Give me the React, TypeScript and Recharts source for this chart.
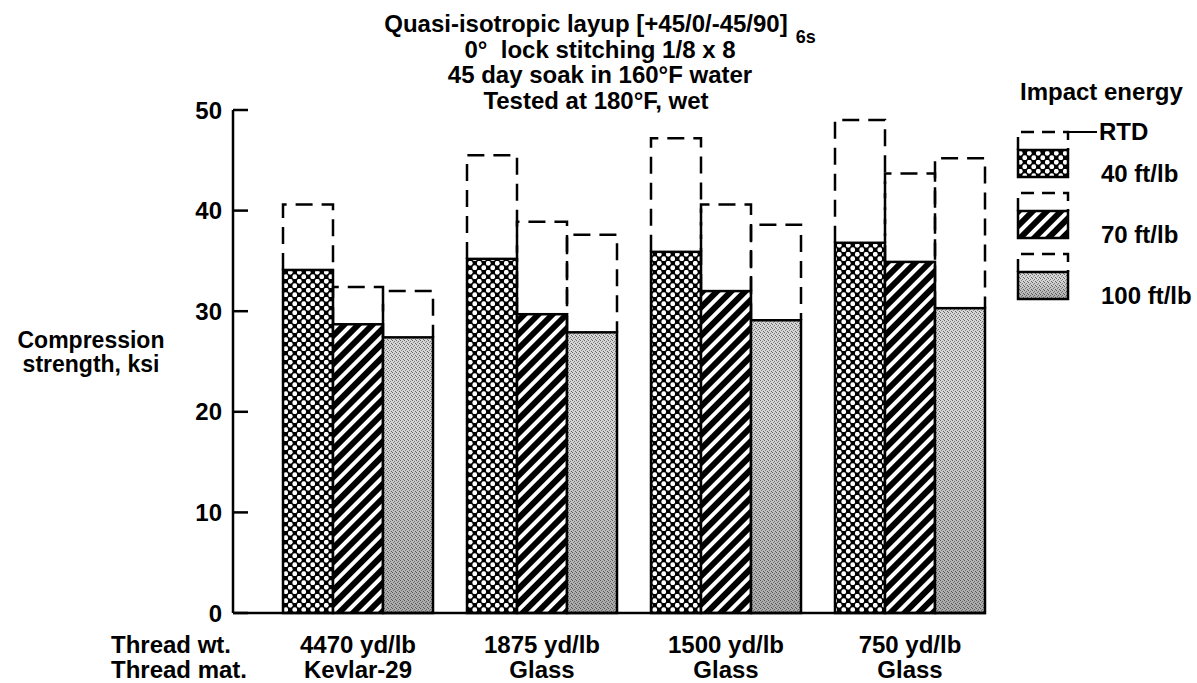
import { BarChart, Bar, XAxis, YAxis, Legend } from "recharts";

// thread weight / material per group
const threadWeights = ["4470 yd/lb", "1875 yd/lb", "1500 yd/lb", "750 yd/lb"];
const threadMaterials = ["Kevlar-29", "Glass", "Glass", "Glass"];

// compression strength after impact, ksi
const impact40 = [34.1, 35.2, 35.9, 36.8];
const impact70 = [28.7, 29.7, 32.0, 34.9];
const impact100 = [27.4, 27.9, 29.1, 30.3];

// RTD (room temperature dry) strength, ksi
const rtd40 = [40.6, 45.5, 47.2, 49.0];
const rtd70 = [32.4, 38.9, 40.6, 43.7];
const rtd100 = [32.0, 37.6, 38.6, 45.2];

const yTicks = [0, 10, 20, 30, 40, 50];

const FONT = '"Liberation Sans", Arial, Helvetica, sans-serif';

const data = threadWeights.map((wt, i) => ({
  wt,
  mat: threadMaterials[i],
  i40: impact40[i],
  d40: rtd40[i] - impact40[i],
  i70: impact70[i],
  d70: rtd70[i] - impact70[i],
  i100: impact100[i],
  d100: rtd100[i] - impact100[i],
}));

const textStyle = {
  fontFamily: FONT,
  fontWeight: 700,
  fontSize: 24,
  fill: "#000",
};

function makeImpactShape(patternId: string, shaded: boolean) {
  return (props: any) => {
    const { x, y, width, height } = props;
    if (!height || height <= 0) return <g />;
    return (
      <g>
        <rect x={x} y={y} width={width} height={height} fill={`url(#${patternId})`} />
        {shaded && (
          <rect x={x} y={y} width={width} height={height} fill="url(#greyShade)" />
        )}
        <rect
          x={x}
          y={y}
          width={width}
          height={height}
          fill="none"
          stroke="#000"
          strokeWidth={2.5}
        />
      </g>
    );
  };
}

const RtdShape = (props: any) => {
  const { x, y, width, height } = props;
  if (!height || height <= 0) return <g />;
  return (
    <path
      d={`M${x},${y + height} L${x},${y} L${x + width},${y} L${x + width},${y + height}`}
      fill="none"
      stroke="#000"
      strokeWidth={2.5}
      strokeDasharray="17 9"
    />
  );
};

const XTick = (props: any) => {
  const { x, y, payload } = props;
  const i = payload.index;
  return (
    <g>
      <text x={x} y={y + 40} textAnchor="middle" style={textStyle}>
        {payload.value}
      </text>
      <text x={x} y={y + 65} textAnchor="middle" style={textStyle}>
        {threadMaterials[i]}
      </text>
    </g>
  );
};

const YTick = (props: any) => {
  const { x, y, payload } = props;
  return (
    <g>
      <line x1={x + 11} x2={x + 26} y1={y} y2={y} stroke="#000" strokeWidth={2.5} />
      <text x={x} y={y} dy="0.36em" textAnchor="end" style={textStyle}>
        {payload.value}
      </text>
    </g>
  );
};

const dashedOpenBox = (x: number, top: number, w: number, bottom: number) => (
  <path
    d={`M${x},${bottom} L${x},${top} L${x + w},${top} L${x + w},${bottom}`}
    fill="none"
    stroke="#000"
    strokeWidth={2.5}
    strokeDasharray="13 8"
  />
);

const legendItems = [
  { label: "40 ft/lb", fill: "cross", shaded: false },
  { label: "70 ft/lb", fill: "stripes", shaded: false },
  { label: "100 ft/lb", fill: "stipple", shaded: true },
];

const renderLegend = () => (
  <svg width={197} height={250} style={{ display: "block" }}>
    <text x={20} y={30} style={textStyle}>
      Impact energy
    </text>
    {legendItems.map((item, k) => {
      const top = 62 + k * 61;
      const boxTop = top + 18;
      return (
        <g key={item.label}>
          {dashedOpenBox(18, top, 50, boxTop)}
          <rect x={18} y={boxTop} width={50} height={27} fill={`url(#${item.fill})`} />
          {item.shaded && (
            <rect x={18} y={boxTop} width={50} height={27} fill="url(#greyShade)" />
          )}
          <rect
            x={18}
            y={boxTop}
            width={50}
            height={27}
            fill="none"
            stroke="#000"
            strokeWidth={2.5}
          />
          <text x={101} y={boxTop + 32} style={textStyle}>
            {item.label}
          </text>
        </g>
      );
    })}
    <line x1={68} x2={97} y1={62} y2={62} stroke="#000" strokeWidth={2} />
    <text x={99} y={70} style={textStyle}>
      RTD
    </text>
  </svg>
);

export default function App() {
  return (
    <div
      style={{
        position: "absolute",
        left: 0,
        top: 0,
        width: 1197,
        height: 683,
        background: "#fff",
        overflow: "hidden",
      }}
    >
      <BarChart
        width={1197}
        height={683}
        data={data}
        margin={{ top: 110, right: 211, bottom: 10, left: 173 }}
        barSize={50}
        barGap={0}
      >
        <defs>
          <pattern id="cross" width={9} height={9} patternUnits="userSpaceOnUse">
            <rect width={9} height={9} fill="#000" />
            <circle cx={2.25} cy={2.25} r={2.4} fill="#fff" />
            <circle cx={6.75} cy={6.75} r={2.4} fill="#fff" />
          </pattern>
          <pattern
            id="stripes"
            width={10}
            height={10}
            patternUnits="userSpaceOnUse"
            patternTransform="rotate(45)"
          >
            <rect width={10} height={10} fill="#fff" />
            <rect width={6} height={10} fill="#000" />
          </pattern>
          <pattern id="stipple" width={4} height={4} patternUnits="userSpaceOnUse">
            <rect width={4} height={4} fill="#d6d6d6" />
            <rect x={0} y={0} width={1} height={1} fill="#666" />
            <rect x={2} y={1} width={1} height={1} fill="#777" />
            <rect x={1} y={2} width={1} height={1} fill="#888" />
            <rect x={3} y={3} width={1} height={1} fill="#666" />
          </pattern>
          <linearGradient id="greyShade" x1={0} y1={0} x2={0} y2={1}>
            <stop offset="0.3" stopColor="#000" stopOpacity={0} />
            <stop offset="1" stopColor="#000" stopOpacity={0.2} />
          </linearGradient>
        </defs>
        <XAxis
          dataKey="wt"
          height={60}
          padding={{ left: 33, right: -16 }}
          axisLine={{ stroke: "#000", strokeWidth: 2.5 }}
          tickLine={false}
          tickSize={0}
          tickMargin={0}
          tick={<XTick />}
          interval={0}
        />
        <YAxis
          width={60}
          domain={[0, 50]}
          ticks={yTicks}
          axisLine={{ stroke: "#000", strokeWidth: 2.5 }}
          tickLine={false}
          tickSize={0}
          tickMargin={11}
          tick={<YTick />}
          interval={0}
        />
        <Legend
          layout="horizontal"
          verticalAlign="middle"
          align="center"
          content={renderLegend}
          wrapperStyle={{ left: 1000, top: 70, width: 197, height: 250 }}
        />
        <Bar dataKey="i40" stackId="e40" shape={makeImpactShape("cross", false)} isAnimationActive={false} />
        <Bar dataKey="d40" stackId="e40" shape={RtdShape} isAnimationActive={false} />
        <Bar dataKey="i70" stackId="e70" shape={makeImpactShape("stripes", false)} isAnimationActive={false} />
        <Bar dataKey="d70" stackId="e70" shape={RtdShape} isAnimationActive={false} />
        <Bar dataKey="i100" stackId="e100" shape={makeImpactShape("stipple", true)} isAnimationActive={false} />
        <Bar dataKey="d100" stackId="e100" shape={RtdShape} isAnimationActive={false} />
      </BarChart>

      <svg
        width={1197}
        height={683}
        style={{ position: "absolute", left: 0, top: 0, pointerEvents: "none" }}
      >
        <text x={600} y={32} textAnchor="middle" style={textStyle}>
          Quasi-isotropic layup [+45/0/-45/90]
          <tspan dx={8} dy={11} style={{ fontSize: 18 }}>
            6s
          </tspan>
        </text>
        <text x={600} y={58} textAnchor="middle" style={{ ...textStyle, whiteSpace: "pre" }}>
          {"0°  lock stitching 1/8 x 8"}
        </text>
        <text x={600} y={83} textAnchor="middle" style={textStyle}>
          45 day soak in 160°F water
        </text>
        <text x={596} y={109} textAnchor="middle" style={textStyle}>
          Tested at 180°F, wet
        </text>
        <text x={91} y={348} textAnchor="middle" style={{ ...textStyle, fontSize: 23 }}>
          Compression
        </text>
        <text x={91} y={372} textAnchor="middle" style={{ ...textStyle, fontSize: 23 }}>
          strength, ksi
        </text>
        <text x={111} y={653} style={textStyle}>
          Thread wt.
        </text>
        <text x={111} y={678} style={textStyle}>
          Thread mat.
        </text>
      </svg>
    </div>
  );
}
